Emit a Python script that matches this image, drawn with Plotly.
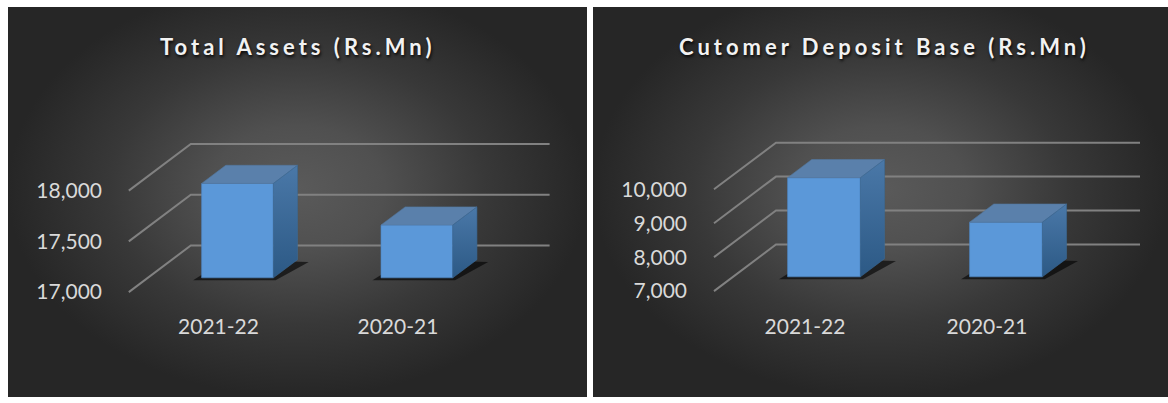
import plotly.graph_objects as go

# ---------------- data ----------------
categories = ["2021-22", "2020-21"]
total_assets = [17930, 17520]
deposit_base = [9920, 8610]
assets_ticks = [17000, 17500, 18000]
deposit_ticks = [7000, 8000, 9000, 10000]
titles = ["Total Assets (Rs.Mn)", "Cutomer Deposit Base (Rs.Mn)"]

# ---------------- layout constants (pixels) ----------------
W, H = 1168, 403
DOM_TOP, DOM_BOT = 100, 302
DEPTH_PX_X, DEPTH_PX_Y = 62, 47.3
D0, D1 = 0.306, 0.696          # bar depth span (fraction of floor depth)
HALF_W = 0.2                   # half bar width in category units

panels = [
    dict(values=total_assets, ticks=assets_ticks, title=titles[0],
         bg=(8, 587), cat0_px=218.5, unit_px=179.4, floor_py=296.5,
         px_per_val=0.103, dom_x=(112, 587), title_x=297),
    dict(values=deposit_base, ticks=deposit_ticks, title=titles[1],
         bg=(593, 1168), cat0_px=805, unit_px=182, floor_py=295.5,
         px_per_val=0.03447, dom_x=(697, 1168), title_x=884),
]

FONT = "Lato"
fig = go.Figure()
shapes = []
annotations = []

# background panels (radial gradient) on a full-page helper axis
for p in panels:
    x0, x1 = p["bg"]
    fig.add_trace(go.Scatter(
        x=[x0, x1, x1, x0, x0], y=[H, H, -20, -20, H],
        mode="lines", fill="toself", line=dict(width=0),
        fillgradient=dict(type="radial",
                          colorscale=[[0, "#5a5a5a"], [0.3, "#505050"],
                                      [0.65, "#383838"], [1, "#262626"]]),
        hoverinfo="skip", xaxis="x", yaxis="y"))

layout_axes = dict(
    xaxis=dict(domain=[0, 1], range=[0, W], visible=False, fixedrange=True),
    yaxis=dict(domain=[0, (H - 7) / H], range=[H, 7], visible=False, fixedrange=True),
)

for k, p in enumerate(panels):
    ax = k + 2
    xr, yr = f"x{ax}", f"y{ax}"
    vmin = p["ticks"][0]
    dxu = DEPTH_PX_X / p["unit_px"]
    dyu = DEPTH_PX_Y / p["px_per_val"]

    def proj(x, v, d, dxu=dxu, dyu=dyu):
        return x + d * dxu, v + d * dyu

    n = len(categories)
    xl, xr_end = -0.5, n - 0.5

    # gridlines (side wall + back wall)
    for v in p["ticks"]:
        a = proj(xl, v, 0)
        b = proj(xl, v, 1)
        c = proj(xr_end, v, 1)
        shapes.append(dict(type="path", xref=xr, yref=yr, layer="below",
                           path=f"M {a[0]},{a[1]} L {b[0]},{b[1]} L {c[0]},{c[1]}",
                           line=dict(color="#818181", width=2)))

    # shadows under bars
    for i, val in enumerate(p["values"]):
        pts = [proj(i - HALF_W - 0.03, vmin, D0 - 0.05),
               proj(i + HALF_W + 0.03, vmin, D0 - 0.05),
               proj(i + HALF_W + 0.08, vmin, D1 - 0.05),
               proj(i - HALF_W, vmin, D1)]
        path = "M " + " L ".join(f"{x},{y}" for x, y in pts) + " Z"
        shapes.append(dict(type="path", xref=xr, yref=yr, layer="below",
                           path=path, fillcolor="rgba(0,0,0,0.6)",
                           line=dict(width=0)))

    # front faces as bars
    fig.add_trace(go.Bar(
        x=[i + D0 * dxu for i in range(n)],
        y=[val - vmin for val in p["values"]],
        base=vmin + D0 * dyu, width=2 * HALF_W,
        marker=dict(color="#5b98d9", line=dict(color="#4d84c2", width=0.6)),
        xaxis=xr, yaxis=yr, hoverinfo="skip"))

    # top and side faces
    for i, val in enumerate(p["values"]):
        top = [proj(i - HALF_W, val, D0), proj(i + HALF_W, val, D0),
               proj(i + HALF_W, val, D1), proj(i - HALF_W, val, D1),
               proj(i - HALF_W, val, D0)]
        fig.add_trace(go.Scatter(
            x=[q[0] for q in top], y=[q[1] for q in top],
            mode="lines", fill="toself", fillcolor="#5a80ab",
            line=dict(color="#52779f", width=0.6),
            xaxis=xr, yaxis=yr, hoverinfo="skip"))
        side = [proj(i + HALF_W, vmin, D0), proj(i + HALF_W, val, D0),
                proj(i + HALF_W, val, D1), proj(i + HALF_W, vmin, D1),
                proj(i + HALF_W, vmin, D0)]
        fig.add_trace(go.Scatter(
            x=[q[0] for q in side], y=[q[1] for q in side],
            mode="lines", fill="toself",
            fillgradient=dict(type="vertical",
                              colorscale=[[0, "#2c5985"], [1, "#4a78a8"]]),
            line=dict(color="#3b6894", width=0.6),
            xaxis=xr, yaxis=yr, hoverinfo="skip"))

    x0px, x1px = p["dom_x"]
    xrange = [(x0px - p["cat0_px"]) / p["unit_px"],
              (x1px - p["cat0_px"]) / p["unit_px"]]
    yrange = [vmin - (DOM_BOT - p["floor_py"]) / p["px_per_val"],
              vmin + (p["floor_py"] - DOM_TOP) / p["px_per_val"]]

    layout_axes[f"xaxis{ax}"] = dict(
        domain=[x0px / W, x1px / W], range=xrange, anchor=yr,
        tickvals=list(range(n)), ticktext=categories,
        showgrid=False, zeroline=False, showline=False, ticks="",
        tickfont=dict(family=FONT, size=21, color="#d9d9d9"),
        ticklabelstandoff=14, fixedrange=True)
    layout_axes[f"yaxis{ax}"] = dict(
        domain=[1 - DOM_BOT / H, 1 - DOM_TOP / H], range=yrange, anchor=xr,
        tickvals=p["ticks"], ticktext=[f"{v:,}" for v in p["ticks"]],
        showgrid=False, zeroline=False, showline=False, ticks="",
        tickfont=dict(family=FONT, size=21, color="#d9d9d9"),
        ticklabelstandoff=9, fixedrange=True)

    annotations.append(dict(
        xref="paper", yref="paper", x=p["title_x"] / W, y=1 - 47 / H,
        xanchor="center", yanchor="middle", showarrow=False,
        text=f'<span style="letter-spacing:4px">{p["title"]}</span>',
        font=dict(family=FONT, size=22, color="#f2f2f2", weight="bold",
                  shadow="1px 2px 3px rgba(0,0,0,0.85)")))

fig.update_layout(
    width=W, height=H, margin=dict(l=0, r=0, t=0, b=0),
    paper_bgcolor="white", plot_bgcolor="rgba(0,0,0,0)",
    showlegend=False, shapes=shapes, annotations=annotations,
    barmode="overlay", **layout_axes)

fig.write_html("out.html")
